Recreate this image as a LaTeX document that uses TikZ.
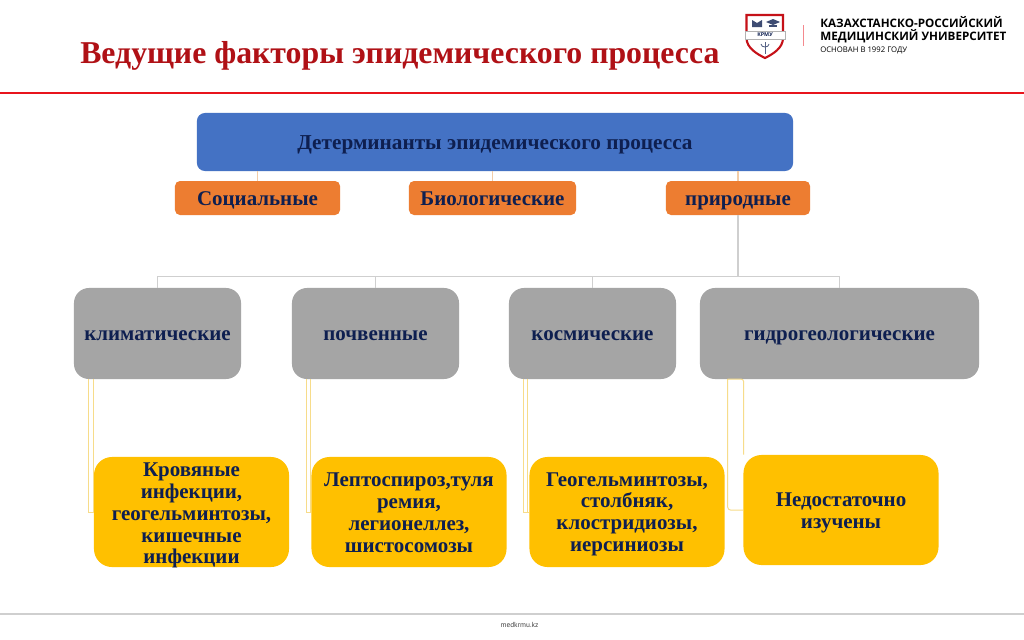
\documentclass[tikz,border=0pt]{standalone}
\usepackage{fontspec}
\setmainfont{Liberation Serif}
\newfontfamily\logofont{Open Sans}
\newfontfamily\footfont{PT Sans}
\usepackage{xcolor}
\usepackage{tikz}
\definecolor{titlered}{HTML}{B01116}
\definecolor{barred}{HTML}{E8141C}
\definecolor{boxblue}{HTML}{4472C4}
\definecolor{boxorange}{HTML}{ED7D31}
\definecolor{boxgray}{HTML}{A5A5A5}
\definecolor{boxyellow}{HTML}{FFC000}
\definecolor{textnavy}{HTML}{0E1F50}
\definecolor{linkgray}{HTML}{CFCFCF}
\definecolor{linktan}{HTML}{F2CDA8}
\definecolor{linkyellow}{HTML}{F7DC8A}
\newcommand{\lowertext}[1]{\rule{0pt}{#1}}
\tikzset{
  box/.style={text=textnavy, font=\bfseries\fontsize{14.9}{15.6}\selectfont, align=center, inner sep=0pt},
  oneline/.style={text height=13pt, text depth=3pt},
  bluebox/.style={box, oneline, font=\bfseries\fontsize{15.1}{15.6}\selectfont, fill=boxblue, rounded corners=0.2cm, minimum width=14.9cm, minimum height=1.45cm},
  orangebox/.style={box, oneline, fill=boxorange, rounded corners=0.125cm, minimum height=0.85cm},
  graybox/.style={box, oneline, fill=boxgray, rounded corners=0.375cm, minimum height=2.275cm},
  yellowbox/.style={box, fill=boxyellow, rounded corners=0.45cm, minimum width=4.875cm, minimum height=2.75cm},
  toplink/.style={linktan, line width=0.8pt},
  graylink/.style={linkgray, line width=0.8pt},
  yellowlink/.style={linkyellow, line width=0.7pt},
  logotext/.style={anchor=west, inner sep=0pt, text=black, font=\logofont\bfseries\fontsize{8.3}{9}\selectfont},
}
\begin{document}
\begin{tikzpicture}[x=0.025cm,y=-0.025cm]
\useasboundingbox (0,0) rectangle (1024,639);
\fill[white] (0,0) rectangle (1024,639);
\node[anchor=west, inner sep=0pt, text=titlered, font=\bfseries\fontsize{22.6}{26}\selectfont] (title) at (80,56) {Ведущие факторы эпидемического процесса};
\draw[barred, line width=1.8pt] (0,93) -- (1024,93);
\draw[linkgray, line width=1.2pt] (0,614) -- (1024,614);
\node[inner sep=0pt, text=black!75, font=\footfont\fontsize{5.2}{7}\selectfont] (foot) at (519.5,624.5) {medkrmu.kz};
% logo
\filldraw[fill=white, draw=barred!85!black, line width=1.5pt] (746.5,15) -- (783,15) -- (783,38) .. controls (783,48) and (773,54) .. (765,58) .. controls (757,54) and (746.5,48) .. (746.5,38) -- cycle;
\fill[textnavy!80] (752,20) -- (757,23) -- (762,20) -- (762,27) -- (752,27) -- cycle;
\fill[textnavy!80] (766,22) -- (773,19) -- (780,22) -- (773,25) -- cycle;
\fill[textnavy!80] (769,25) rectangle (777,27);
\draw[gray!60, fill=white, line width=0.3pt] (745,31) rectangle (785,39);
\node[inner sep=0pt, text=textnavy, font=\logofont\bfseries\fontsize{3.8}{4}\selectfont] (krmu) at (765,35) {КРМУ};
\draw[textnavy!70, line width=0.6pt] (765,42) -- (765,54);
\draw[textnavy!70, line width=0.6pt] (761,44) .. controls (761,48) and (769,48) .. (769,44);
\draw[barred!50, line width=0.6pt] (803,25) -- (803,46);
\node[logotext] (uni1) at (820,22) {КАЗАХСТАНСКО-РОССИЙСКИЙ};
\node[logotext] (uni2) at (820,36.5) {МЕДИЦИНСКИЙ УНИВЕРСИТЕТ};
\node[logotext, font=\logofont\fontsize{5.5}{6}\selectfont] (uni3) at (820,50.5) {ОСНОВАН В 1992 ГОДУ};
% boxes
\node[bluebox] (det) at (495,142) {Детерминанты эпидемического процесса};
\node[orangebox, minimum width=4.125cm] (soc) at (257.5,198) {Социальные};
\node[orangebox, minimum width=4.175cm] (bio) at (492.5,198) {Биологические};
\node[orangebox, minimum width=3.6cm] (nat) at (738,198) {природные};
\node[graybox, minimum width=4.175cm] (clim) at (157.5,333.5) {климатические};
\node[graybox, minimum width=4.175cm] (soil) at (375.5,333.5) {почвенные};
\node[graybox, minimum width=4.175cm] (cosm) at (592.5,333.5) {космические};
\node[graybox, minimum width=6.975cm] (hydro) at (839.5,333.5) {гидрогеологические};
\node[yellowbox] (blood) at (191.5,512) {\lowertext{11.5pt}Кровяные\\инфекции,\\геогельминтозы,\\кишечные\\\smash{инфекции}};
\node[yellowbox] (lept) at (409,512) {\lowertext{11pt}Лептоспироз,туля\\ремия,\\легионеллез,\\шистосомозы};
\node[yellowbox] (geo) at (627,512) {\lowertext{13pt}Геогельминтозы,\\столбняк,\\клостридиозы,\\иерсиниозы};
\node[yellowbox] (none) at (841,510) {\lowertext{14.5pt}Недостаточно\\изучены};
% links
\foreach \a in {soc,bio,nat}
  \draw[toplink] (det.south -| \a.north) -- (\a.north);
\coordinate (hub) at (738,276.7);
\draw[graylink] (nat.south) -- (hub);
\draw[graylink] (clim.north) |- (hub);
\draw[graylink] (soil.north) |- (hub);
\draw[graylink] (cosm.north) |- (hub);
\draw[graylink] (hydro.north) |- (hub);
\coordinate (climA) at (88,379);
\coordinate (climB) at (93,379);
\coordinate (soilA) at (306.3,379);
\coordinate (soilB) at (310.3,379);
\coordinate (cosmA) at (523.3,379);
\coordinate (cosmB) at (527.7,379);
\draw[yellowlink] (climA) |- (blood.west) (climB) -- (climB |- blood.west);
\draw[yellowlink] (soilA) |- (lept.west) (soilB) -- (soilB |- lept.west);
\draw[yellowlink] (cosmA) |- (geo.west) (cosmB) -- (cosmB |- geo.west);
\coordinate (hydroA) at (727.7,379);
\coordinate (hydroB) at (743.7,379);
\draw[yellowlink, rounded corners=2pt] (hydroA) |- (none.west) (hydroA) -- (hydroB) -- (hydroB |- none.north);
\end{tikzpicture}
\end{document}
